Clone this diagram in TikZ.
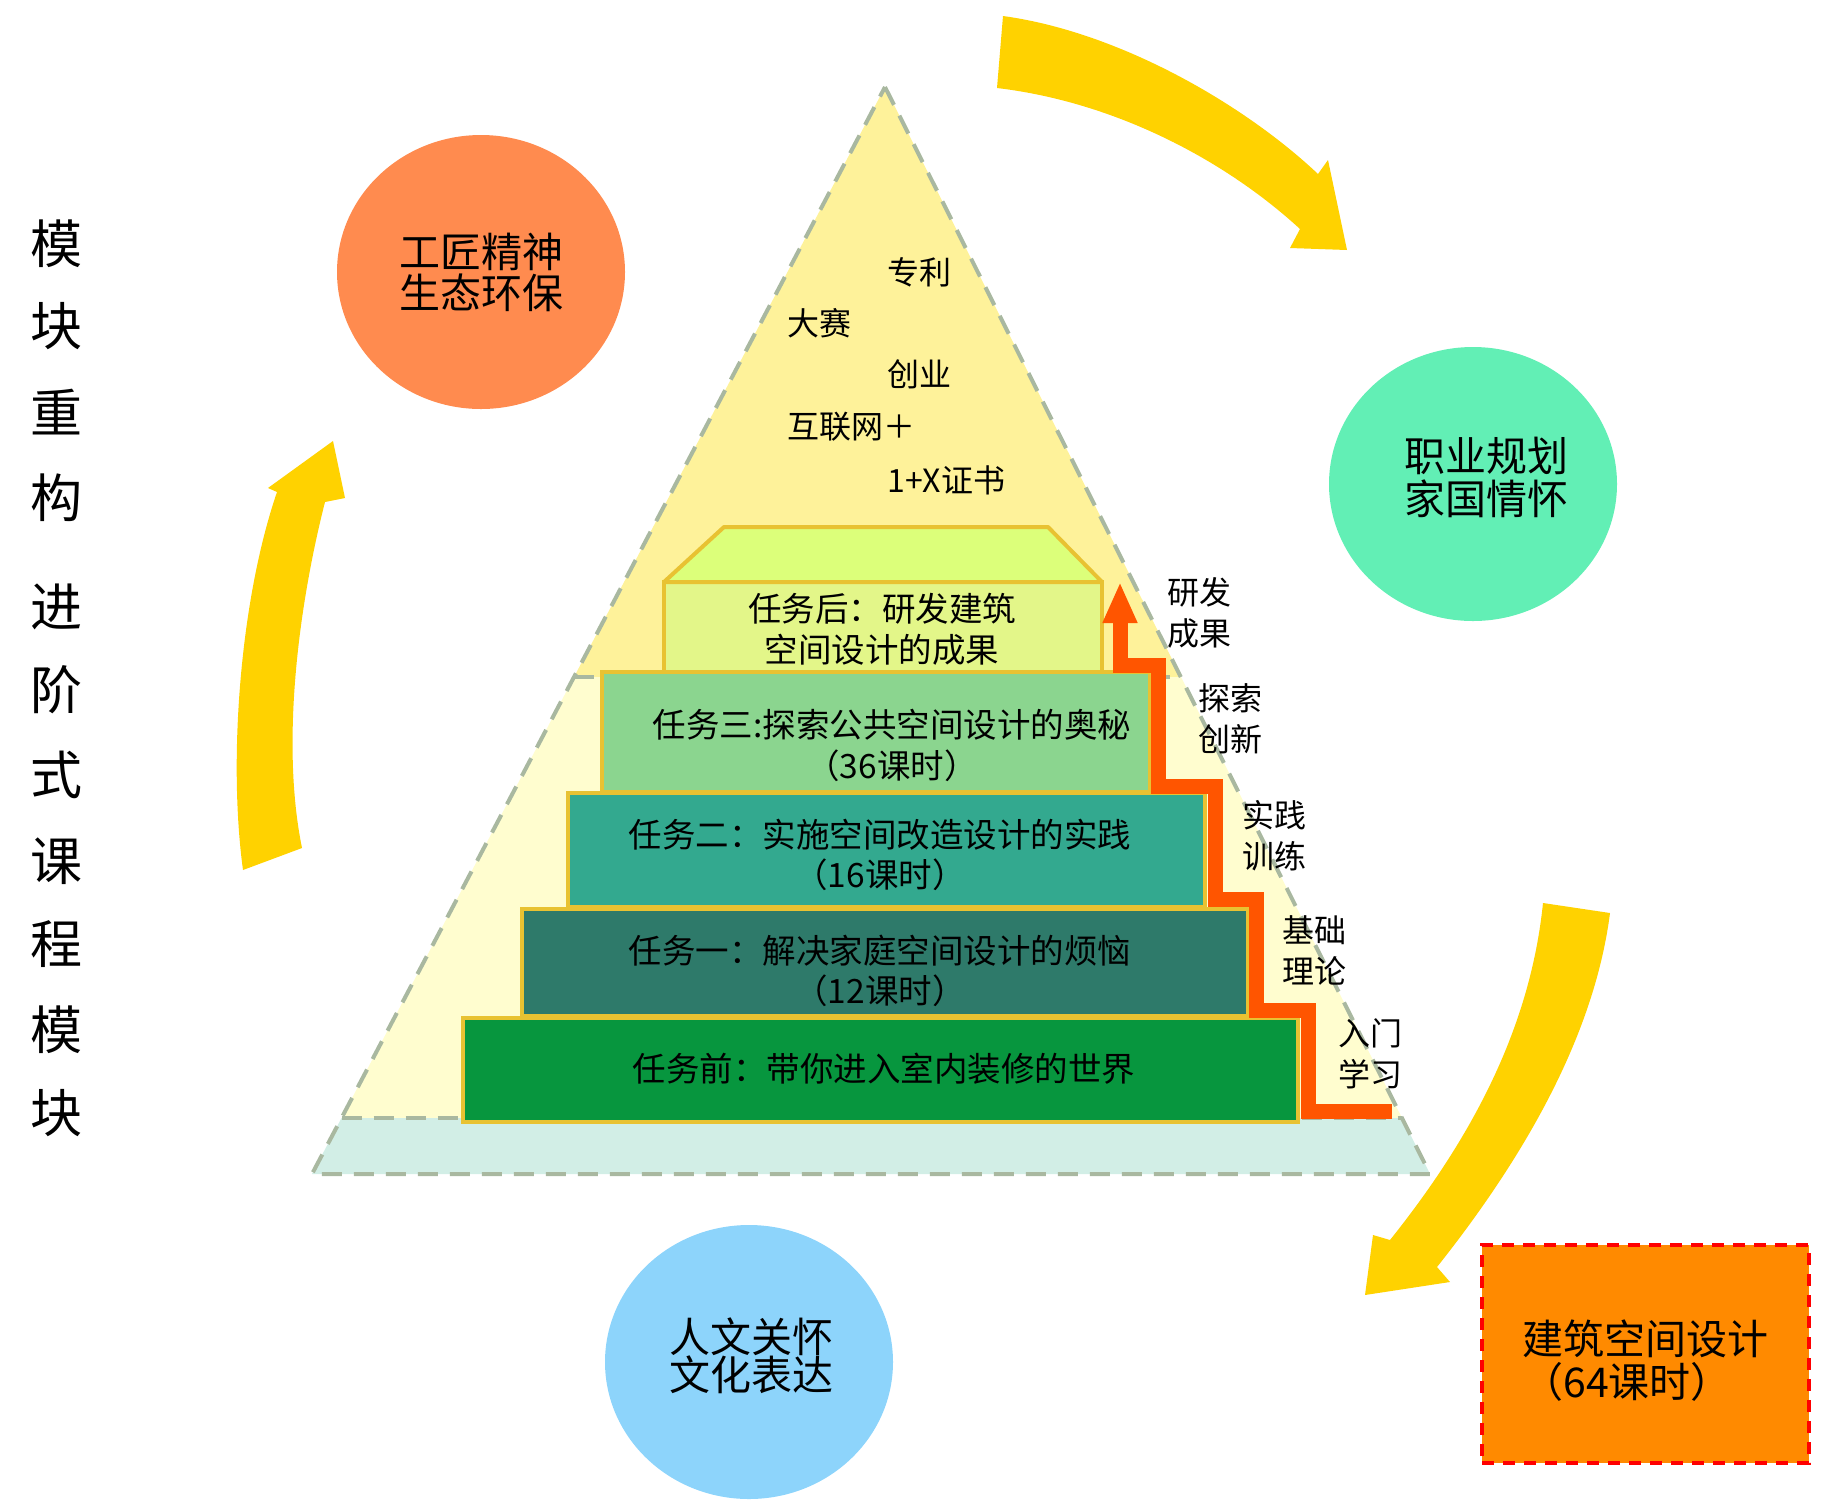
\documentclass[tikz,border=0pt]{standalone}
\usepackage{fontspec}
\setmainfont{Noto Sans CJK SC}
\usetikzlibrary{shapes.geometric,arrows.meta}
\definecolor{pyrtop}{HTML}{FEF29A}
\definecolor{pyrmid}{HTML}{FFFDCF}
\definecolor{pyrband}{HTML}{D2EEE6}
\definecolor{pyrline}{HTML}{A9B8A0}
\definecolor{stepedge}{HTML}{E8C232}
\definecolor{trapfill}{HTML}{DCFF7A}
\definecolor{stepfour}{HTML}{E3F689}
\definecolor{stepthree}{HTML}{8BD58F}
\definecolor{steptwo}{HTML}{33A98F}
\definecolor{stepone}{HTML}{2E7A6A}
\definecolor{stepzero}{HTML}{07963E}
\definecolor{stairorange}{HTML}{FF5500}
\definecolor{arrowyellow}{HTML}{FFD200}
\definecolor{circorange}{HTML}{FF8B4F}
\definecolor{circgreen}{HTML}{62EFB5}
\definecolor{circblue}{HTML}{8DD4FB}
\definecolor{rectorange}{HTML}{FF8A00}
\definecolor{rectred}{HTML}{FF0000}
\begin{document}
\begin{tikzpicture}[x=0.5pt,y=-0.5pt,
  pyrdash/.style={draw=pyrline, line width=2pt, dash pattern=on 10pt off 6pt},
  stepbox/.style={draw=stepedge, line width=2pt, inner sep=0pt, outer sep=0pt, rectangle},
  steptext/.style={font=\fontsize{16.75}{20.25}\selectfont, align=center, inner sep=0pt},
  circtext/.style={font=\fontsize{20.5}{20.5}\selectfont, align=center, inner sep=0pt},
  circle shape/.style={ellipse, draw=none, inner sep=0pt, minimum width=144pt, minimum height=137pt},
  lbl/.style={font=\fontsize{16}{20.5}\selectfont, align=left, anchor=west, inner sep=0pt},
  titlechar/.style={font=\fontsize{26}{26}\selectfont, inner sep=0pt},
  yarrow/.style={fill=arrowyellow, draw=none}]
\useasboundingbox (0,0) rectangle (1826,1506);

% ---- pyramid fills
\fill[pyrtop] (885,87) -- (1181,677) -- (574,677) -- cycle;
\fill[pyrmid] (574,677) -- (1181,677) -- (1402,1118) -- (341.5,1118) -- cycle;
\fill[pyrband] (341.5,1118) -- (1402,1118) -- (1430,1174) -- (312,1174) -- cycle;
\draw[pyrdash] (885,87) -- (1430,1174) -- (312,1174) -- cycle;
\draw[pyrdash] (574,677) -- (1181,677);
\draw[pyrdash] (341.5,1118) -- (1402,1118);

% ---- steps
\node[stepbox, fill=stepzero, minimum width=417.5pt, minimum height=52pt] (s0) at (880.5,1070) {};
\node[stepbox, fill=stepone, minimum width=363pt, minimum height=53.5pt] (s1) at (885,962.5) {};
\node[stepbox, fill=steptwo, minimum width=318.5pt, minimum height=57pt] (s2) at (886.5,850) {};
\node[stepbox, fill=stepthree, minimum width=274pt, minimum height=60pt] (s3) at (876,732) {};
\node[stepbox, fill=stepfour, minimum width=219pt, minimum height=45pt] (s4) at (883,627) {};
\draw[draw=stepedge, line width=2pt, fill=trapfill, line join=round] (s4.north west) -- ++(60,-55) -- ++(324,0) -- (s4.north east) -- cycle;

\node[steptext] (s4t) at (882,629.5) {任务后：研发建筑\\空间设计的成果};
\node[steptext] (s3t) at (892,745.5) {任务三:探索公共空间设计的奥秘\\（36课时）};
\node[steptext] (s2t) at (880,855) {任务二：实施空间改造设计的实践\\（16课时）};
\node[steptext] (s1t) at (880,971) {任务一：解决家庭空间设计的烦恼\\（12课时）};
\node[steptext] (s0t) at (884,1069) {任务前：带你进入室内装修的世界};

% ---- staircase arrow
\coordinate (stairstart) at (1392,1111);
\coordinate (stairtip) at (1120,582);
\draw[stairorange, line width=7.5pt, line join=miter, -{Triangle[width=16pt,length=20.5pt]}]
  (stairstart) -- (1308,1111) -- (1308,1010) -- (1256,1010) -- (1256,899) -- (1215,899)
  -- (1215,786) -- (1158,786) -- (1158,665) -- (1120,665) -- (stairtip);

% ---- side labels
\node[lbl] (l4) at (1167,612.5) {研发\\成果};
\node[lbl] (l3) at (1198,718.5) {探索\\创新};
\node[lbl] (l2) at (1242,836) {实践\\训练};
\node[lbl] (l1) at (1282,951) {基础\\理论};
\node[lbl] (l0) at (1338,1054) {入门\\学习};

% ---- top labels
\node[lbl] (k1) at (887,272) {专利};
\node[lbl] (k2) at (787,323) {大赛};
\node[lbl] (k3) at (887,374) {创业};
\node[lbl] (k4) at (787,427) {互联网＋};
\node[lbl] (k5) at (887,480) {1+X证书};

% ---- circles
\node[circle shape, fill=circorange] (co) at (481,272) {};
\node[circtext] (cot) at (481,272) {工匠精神\\生态环保};
\node[circle shape, fill=circgreen] (cg) at (1473,484) {};
\node[circtext, font=\fontsize{20.5}{21.5}\selectfont] (cgt) at (1486,477) {职业规划\\家国情怀};
\node[circle shape, fill=circblue] (cb) at (749,1362) {};
\node[circtext, font=\fontsize{20.5}{19}\selectfont] (cbt) at (751,1356) {人文关怀\\文化表达};

% ---- orange rectangle
\node[rectangle, fill=rectorange, draw=rectred, line width=2pt, dash pattern=on 6pt off 4.5pt,
  minimum width=163.5pt, minimum height=109pt, inner sep=0pt] (box) at (1645.5,1354) {};
\node[font=\fontsize{20.5}{21.5}\selectfont, align=left, anchor=west, inner sep=0pt] (boxt) at (1522,1361) {建筑空间设计\\（64课时）};

% ---- yellow arrows
\fill[yarrow] (1003,16) .. controls (1120,32) and (1245,105) .. (1318,174) -- (1328,160) -- (1347,250)
  -- (1290,248) -- (1300,229) .. controls (1225,160) and (1115,102) .. (997,88) -- cycle;
\fill[yarrow] (333,441) -- (345,498) -- (325,502) .. controls (300,600) and (280,740) .. (302,848)
  -- (243,870) .. controls (228,760) and (240,600) .. (277,492) -- (268,488) -- cycle;
\fill[yarrow] (1543,903) -- (1610,913) .. controls (1595,1030) and (1530,1150) .. (1437,1267)
  -- (1450,1282) -- (1365,1295) -- (1373,1235) -- (1390,1240) .. controls (1470,1140) and (1530,1030) .. (1543,903) -- cycle;

% ---- title column
\foreach \c/\yy [count=\i] in {模/244,块/326,重/412,构/498,进/607,阶/690,式/775,课/861,程/944,模/1030,块/1113}
  \node[titlechar] (t\i) at (56,\yy) {\c};
\end{tikzpicture}
\end{document}
